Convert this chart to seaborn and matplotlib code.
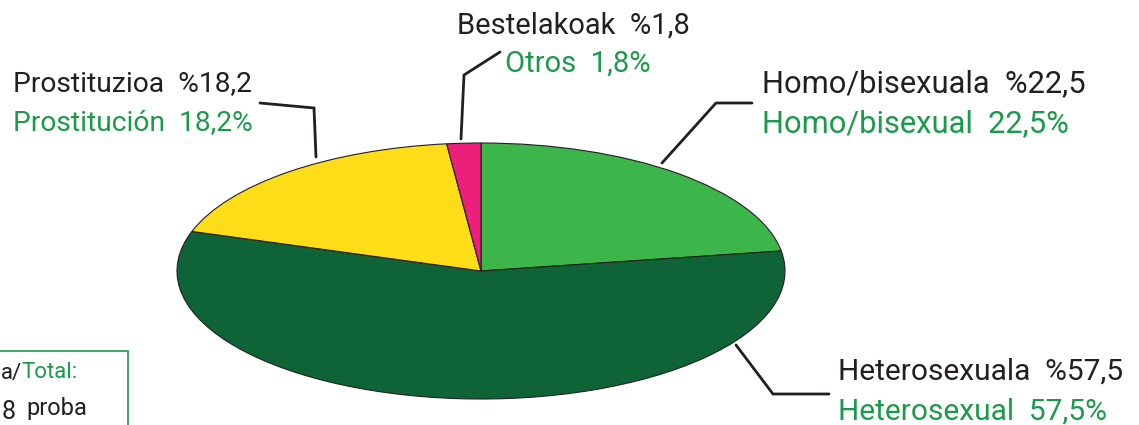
import matplotlib
matplotlib.use("Agg")
import matplotlib.pyplot as plt
import seaborn as sns
from matplotlib.patches import Rectangle

# slice values (%), clockwise from 12 o'clock
categories = ["Homo/bisexual", "Heterosexual", "Prostitución", "Otros"]
values = [22.5, 57.5, 18.2, 1.8]
labels_eu = ["Homo/bisexuala  %22,5", "Heterosexuala  %57,5",
             "Prostituzioa  %18,2", "Bestelakoak  %1,8"]
labels_es = ["Homo/bisexual  22,5%", "Heterosexual  57,5%",
             "Prostitución  18,2%", "Otros  1,8%"]
colors = ["#3cb54a", "#0e6437", "#fddd17", "#ec1f7b"]

BLACK = "#231f20"
GREEN = "#1a9a4a"

sns.set_style("white")
plt.rcParams["font.family"] = ["Roboto", "DejaVu Sans"]

W, H = 1139, 425
fig = plt.figure(figsize=(W / 100, H / 100), dpi=100)
ax = fig.add_axes([0, 0, 1, 1])

# ellipse centre / radii in pixels (top-left origin)
CX, CY, RX, RY = 481, 271, 304, 128


def px(x, y):
    return (x - CX) / RX, (CY - y) / RY


ax.pie(values, colors=colors, startangle=90, counterclock=False,
       wedgeprops=dict(edgecolor=BLACK, linewidth=0.8))
ax.set_aspect("auto")
ax.set_xlim(px(0, 0)[0], px(W, 0)[0])
ax.set_ylim(px(0, H)[1], px(0, 0)[1])
ax.axis("off")

# leader lines
leaders = {
    "Homo/bisexual": [(662, 163), (716, 103), (752, 103)],
    "Heterosexual": [(736, 345), (773, 394), (829, 394)],
    "Prostitución": [(316, 157), (314, 108), (260, 103)],
    "Otros": [(461, 139), (464, 75), (500, 52)],
}
for name, pts in leaders.items():
    xy = [px(*p) for p in pts]
    ax.plot([p[0] for p in xy], [p[1] for p in xy], color=BLACK, lw=2,
            solid_joinstyle="miter")

# label positions: left x, centre y of basque line, spanish line
label_pos = {
    "Homo/bisexual": (762, 84, 762, 124),
    "Heterosexual": (838, 372, 838, 412),
    "Prostitución": (13, 84, 13, 123),
    "Otros": (457, 26, 505, 64),
}
sizes = {"Homo/bisexual": 22.2, "Heterosexual": 21.5,
         "Prostitución": 20.3, "Otros": 21}
for i, name in enumerate(categories):
    x1, y1, x2, y2 = label_pos[name]
    ax.text(*px(x1, y1), labels_eu[i], color=BLACK, fontsize=sizes[name],
            ha="left", va="center")
    ax.text(*px(x2, y2), labels_es[i], color=GREEN, fontsize=sizes[name],
            ha="left", va="center")

# partial total box bottom-left
x0, y0 = px(-20, 351)
x1, y1 = px(128, 440)
ax.add_patch(Rectangle((x0, y1), x1 - x0, y0 - y1, fill=False,
                       edgecolor=GREEN, lw=1.2, clip_on=False))
ax.text(*px(1, 373), "a/", color=BLACK, fontsize=16,
        ha="left", va="center")
ax.text(*px(21, 373), "Total:", color=GREEN, fontsize=16,
        ha="left", va="center")
ax.text(*px(2, 419), "8", color=BLACK, fontsize=18,
        ha="left", va="baseline")
ax.text(*px(26, 409), "proba", color=BLACK, fontsize=17,
        ha="left", va="center")

fig.savefig("out.png", dpi=100)
